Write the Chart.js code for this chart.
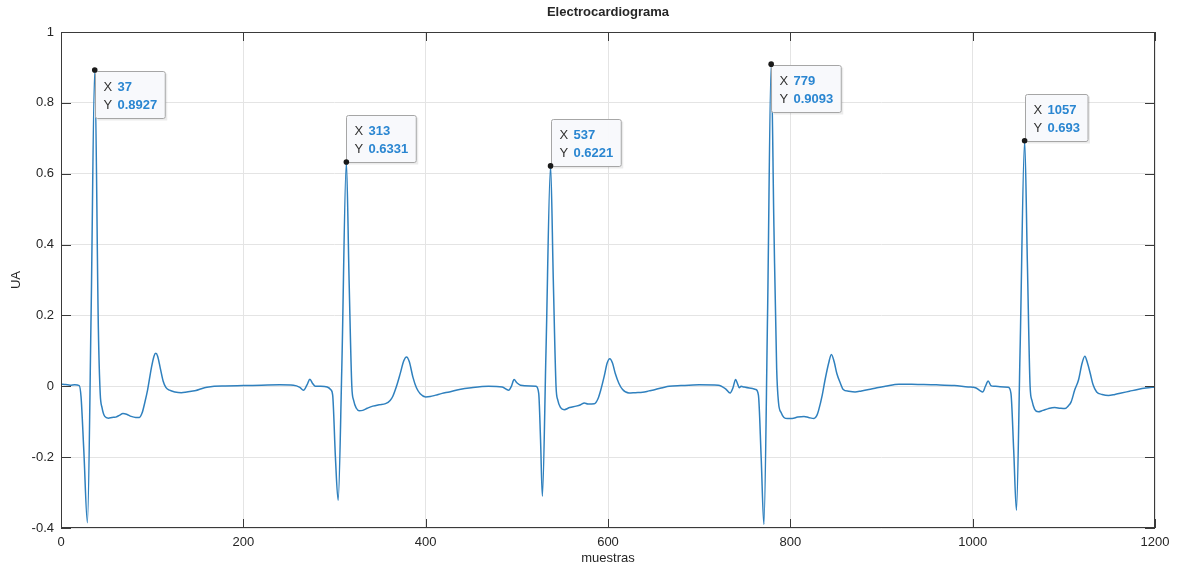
<!DOCTYPE html>
<html lang="es">
<head>
<meta charset="utf-8">
<title>Electrocardiograma</title>
<script src="https://cdn.jsdelivr.net/npm/chart.js@4.4.1/dist/chart.umd.min.js"></script>
<style>
  html, body { margin: 0; padding: 0; background: #fff; }
  #contenedor { width: 1185px; height: 568px; }
</style>
</head>
<body>
<div id="contenedor"><canvas id="ecgChart" width="1185" height="568"></canvas></div>
<script>
// Señal ECG: número de muestra y amplitud (UA)
const muestras = [
  0, 5, 10, 15, 20, 22, 25, 29, 33, 37, 41, 43, 45, 48, 52, 56, 60, 64, 68, 72, 77, 82, 86, 89, 92, 95, 99, 102, 104, 106, 109, 112, 115, 119, 125, 132, 138, 143, 148, 154, 160, 168, 180, 200, 220, 240, 255, 262, 266, 270, 273, 276, 279, 285, 292, 296,
  298, 301, 304, 308, 313, 316, 319, 321, 324, 327, 331, 336, 342, 349, 356, 361, 364, 368, 372, 376, 379, 382, 386, 390, 394, 400, 405, 411, 418, 426, 437, 450, 469, 484, 491, 494, 497, 500, 504, 515, 521,
  524, 526, 528, 532, 537, 540, 543, 545, 548, 552, 558, 565, 570, 574, 578, 585, 589, 592, 596, 599, 602, 605, 608, 612, 616, 623, 630, 638, 645, 652, 660, 667, 680, 700, 721, 729, 734, 737, 740, 742, 744, 746, 749, 755, 762,
  765, 768, 771, 775, 779, 782, 785, 787, 790, 793, 797, 802, 808, 815, 820, 826, 829, 831, 835, 838, 842, 845, 848, 851, 855, 858, 864, 871, 878, 886, 895, 904, 919, 940, 960, 980, 995, 1003, 1008, 1011, 1014, 1017, 1020, 1024, 1030, 1039,
  1042, 1045, 1048, 1052, 1057, 1060, 1063, 1065, 1068, 1072, 1077, 1083, 1090, 1096, 1101, 1105, 1108, 1112, 1116, 1120, 1123, 1126, 1129, 1132, 1136, 1142, 1149, 1156, 1163, 1172, 1181, 1190, 1200
];
const amplitud = [
  0.006, 0.005, 0.003, 0.004, 0.002, -0.03, -0.18, -0.385, 0.2, 0.8927, 0.16, -0.02, -0.06, -0.085, -0.09, -0.088, -0.087, -0.082, -0.077, -0.079, -0.085, -0.088, -0.088, -0.075, -0.045, -0.01, 0.05, 0.085, 0.093, 0.085, 0.05, 0.015, -0.003, -0.011, -0.016, -0.018, -0.016, -0.014, -0.012, -0.007, -0.003, 0, 0.001, 0.002, 0.003, 0.004, 0.003, -0.003, -0.011, 0.005, 0.02, 0.008, 0, 0, -0.002, -0.01,
  -0.025, -0.2, -0.322, 0.05, 0.6331, 0.3, 0, -0.04, -0.062, -0.069, -0.068, -0.062, -0.056, -0.052, -0.049, -0.04, -0.028, 0, 0.035, 0.072, 0.083, 0.07, 0.026, -0.005, -0.021, -0.03, -0.029, -0.025, -0.02, -0.016, -0.009, -0.004, 0, -0.002, -0.011, 0, 0.019, 0.01, 0.003, 0.001, 0,
  -0.02, -0.15, -0.31, 0.1, 0.6221, 0.3, 0, -0.04, -0.06, -0.066, -0.06, -0.056, -0.052, -0.047, -0.05, -0.049, -0.035, -0.011, 0.03, 0.065, 0.078, 0.065, 0.036, 0.008, -0.009, -0.019, -0.018, -0.017, -0.013, -0.009, -0.004, 0, 0.002, 0.004, 0.003, -0.007, -0.019, -0.005, 0.019, 0.008, -0.004, 0, -0.002, -0.005, -0.009,
  -0.025, -0.2, -0.39, 0.2, 0.9093, 0.45, 0.05, -0.045, -0.075, -0.088, -0.091, -0.091, -0.087, -0.085, -0.088, -0.091, -0.083, -0.068, -0.025, 0.017, 0.065, 0.09, 0.07, 0.036, 0.008, -0.009, -0.014, -0.016, -0.013, -0.009, -0.004, 0, 0.006, 0.005, 0.004, 0.002, -0.002, -0.004, -0.012, -0.016, 0, 0.015, 0.002, 0, -0.001, -0.003,
  -0.02, -0.18, -0.35, 0.1, 0.693, 0.35, 0, -0.04, -0.065, -0.072, -0.068, -0.063, -0.06, -0.062, -0.063, -0.055, -0.044, -0.01, 0.017, 0.065, 0.085, 0.065, 0.036, 0.005, -0.016, -0.023, -0.026, -0.023, -0.019, -0.014, -0.009, -0.005, -0.002
];

// Picos R marcados con cuadros de dato
const picosX = [37, 313, 537, 779, 1057];
const picosY = [0.8927, 0.6331, 0.6221, 0.9093, 0.693];

// Marcas de los ejes
const ticksX = [0, 200, 400, 600, 800, 1000, 1200];
const ticksY = [-0.4, -0.2, 0, 0.2, 0.4, 0.6, 0.8, 1];

const fuente = "'Liberation Sans', Arial, sans-serif";
const colorTexto = '#262626';

// Caja de ejes estilo MATLAB, marcas hacia dentro, títulos y cuadros de dato
const ejesMatlab = {
  id: 'ejesMatlab',
  afterDraw(chart, args, opts) {
    const { ctx, chartArea: a, scales: { x, y } } = chart;
    ctx.save();

    const linea = (x1, y1, x2, y2) => {
      ctx.beginPath();
      ctx.moveTo(x1, y1);
      ctx.lineTo(x2, y2);
      ctx.stroke();
    };

    ctx.strokeStyle = '#3a3a3a';
    ctx.lineWidth = 1;
    ticksX.forEach(v => {
      const px = Math.round(x.getPixelForValue(v)) + 0.5;
      linea(px, a.bottom, px, a.bottom - 9);
      linea(px, a.top, px, a.top + 9);
    });
    ticksY.forEach(v => {
      const py = Math.round(y.getPixelForValue(v)) + 0.5;
      linea(a.left, py, a.left + 10, py);
      linea(a.right, py, a.right - 10, py);
    });
    ctx.strokeRect(a.left + 0.5, a.top + 0.5, a.right - a.left - 1, a.bottom - a.top - 1);

    // Título y etiquetas de ejes
    ctx.fillStyle = colorTexto;
    ctx.textAlign = 'center';
    ctx.textBaseline = 'middle';
    ctx.font = 'bold 13px ' + fuente;
    ctx.fillText('Electrocardiograma', (a.left + a.right) / 2, 12);
    ctx.font = '13px ' + fuente;
    ctx.fillText('muestras', (a.left + a.right) / 2, 558);
    ctx.save();
    ctx.translate(16, (a.top + a.bottom) / 2);
    ctx.rotate(-Math.PI / 2);
    ctx.fillText('UA', 0, 0);
    ctx.restore();

    // Cuadros de dato
    picosX.forEach((vx, i) => {
      const px = x.getPixelForValue(vx);
      const py = y.getPixelForValue(picosY[i]);
      const txtX = String(vx);
      const txtY = String(picosY[i]);
      ctx.font = 'bold 13px ' + fuente;
      const ancho = 22 + Math.max(ctx.measureText(txtX).width, ctx.measureText(txtY).width) + 8;
      const alto = 47;
      const bx = Math.round(px) + 0.5;
      const by = opts.abajo[i] ? Math.round(py) + 1.5 : Math.round(py) - alto + 0.5;

      // sombra ligera del cuadro
      ctx.fillStyle = 'rgba(0, 0, 0, 0.08)';
      ctx.fillRect(bx + 2, by + 2, ancho, alto);

      ctx.fillStyle = 'rgba(248, 249, 252, 0.97)';
      ctx.strokeStyle = '#a6a6a6';
      ctx.lineWidth = 1;
      ctx.beginPath();
      ctx.roundRect(bx, by, ancho, alto, 2);
      ctx.fill();
      ctx.stroke();

      ctx.textAlign = 'left';
      ctx.textBaseline = 'middle';
      ctx.font = '13px ' + fuente;
      ctx.fillStyle = '#333';
      ctx.fillText('X', bx + 8, by + 15.5);
      ctx.fillText('Y', bx + 8, by + 33.5);
      ctx.font = 'bold 13px ' + fuente;
      ctx.fillStyle = '#2a86d1';
      ctx.fillText(txtX, bx + 22, by + 15.5);
      ctx.fillText(txtY, bx + 22, by + 33.5);

      ctx.fillStyle = '#1a1a1a';
      ctx.beginPath();
      ctx.arc(px, py, 2.8, 0, Math.PI * 2);
      ctx.fill();
    });

    ctx.restore();
  }
};

const puntos = muestras.map((m, i) => ({ x: m, y: amplitud[i] }));

new Chart(document.getElementById('ecgChart'), {
  type: 'line',
  data: {
    datasets: [{
      label: 'ECG',
      data: puntos,
      borderColor: '#2f80be',
      borderWidth: 1.5,
      pointRadius: 0,
      cubicInterpolationMode: 'monotone',
      fill: false
    }]
  },
  options: {
    responsive: false,
    animation: false,
    devicePixelRatio: 1,
    layout: { padding: { top: 32, right: 30, left: 0, bottom: 0 } },
    plugins: {
      legend: { display: false },
      title: { display: false },
      tooltip: { enabled: false },
      ejesMatlab: { abajo: [true, false, false, true, false] }
    },
    scales: {
      x: {
        type: 'linear',
        min: 0,
        max: 1200,
        afterBuildTicks: s => { s.ticks = ticksX.map(v => ({ value: v })); },
        afterFit: s => { s.height = 40; },
        grid: { color: '#e4e4e4', drawTicks: false },
        border: { display: false },
        ticks: {
          padding: 7,
          color: colorTexto,
          font: { family: fuente, size: 13 },
          maxRotation: 0,
          callback: v => String(v)
        }
      },
      y: {
        min: -0.4,
        max: 1,
        afterBuildTicks: s => { s.ticks = ticksY.map(v => ({ value: v })); },
        afterFit: s => { s.width = 61; },
        grid: { color: '#e4e4e4', drawTicks: false },
        border: { display: false },
        ticks: {
          padding: 7,
          color: colorTexto,
          font: { family: fuente, size: 13 },
          callback: v => String(Math.round(v * 10) / 10 || 0)
        }
      }
    }
  },
  plugins: [ejesMatlab]
});
</script>
</body>
</html>
